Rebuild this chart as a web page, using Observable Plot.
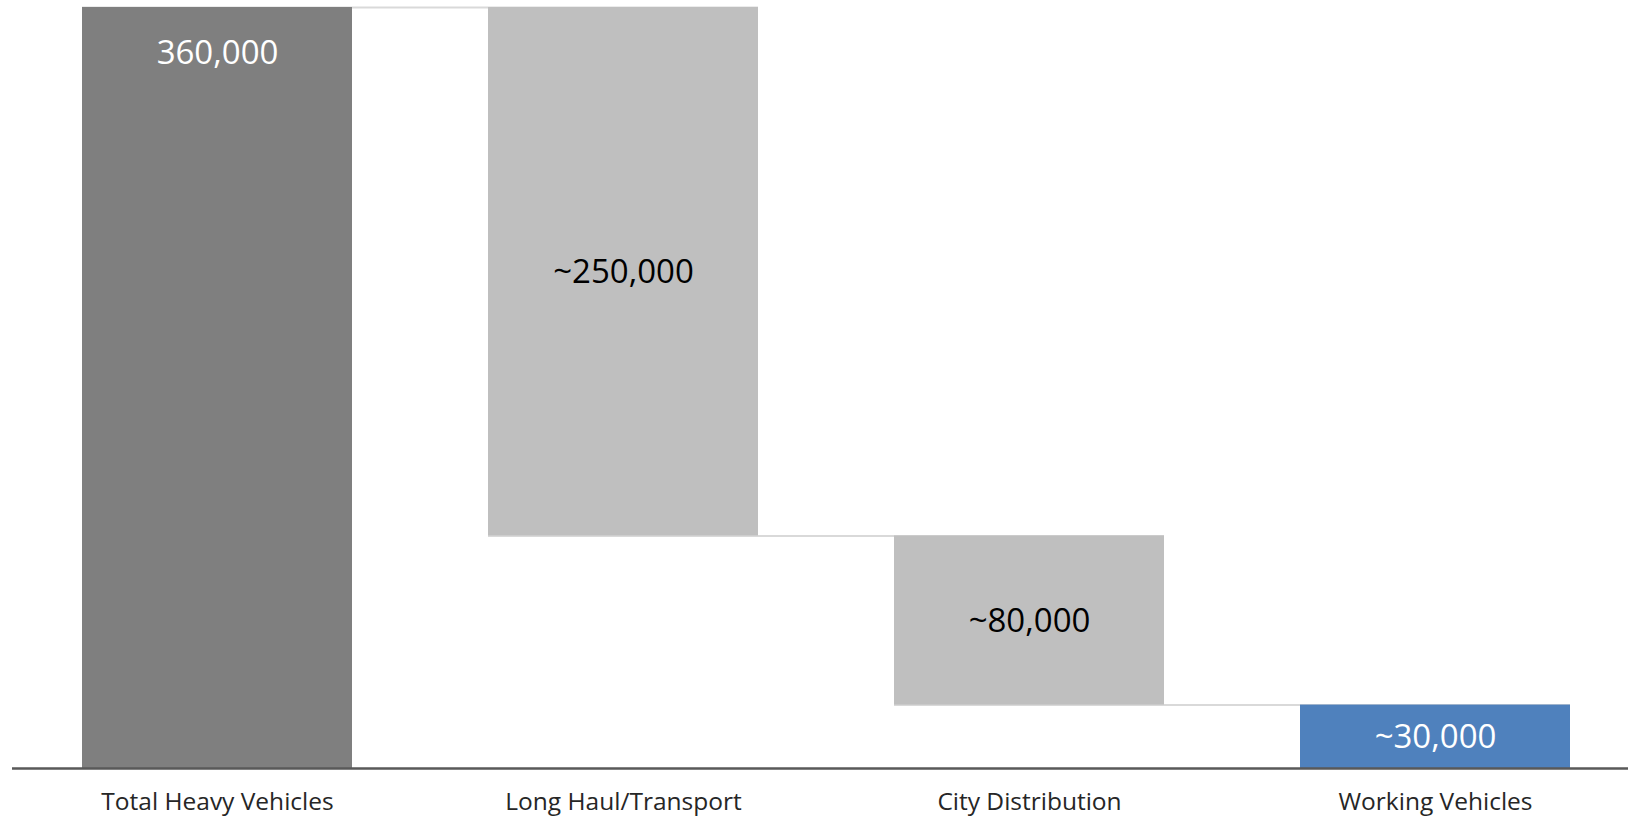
<!DOCTYPE html>
<html>
<head>
<meta charset="utf-8">
<script src="https://cdn.jsdelivr.net/npm/d3@7"></script>
<script src="https://cdn.jsdelivr.net/npm/@observablehq/plot@0.6"></script>
<style>
  html, body { margin: 0; padding: 0; background: #ffffff; }
  #chart svg { display: block; }
</style>
</head>
<body>
<div id="chart"></div>
<script>
// ---- data ----
const categories = ["Total Heavy Vehicles", "Long Haul/Transport", "City Distribution", "Working Vehicles"];
const values = [360000, -250000, -80000, 30000];
const kinds = ["total", "step", "step", "total"];
const valueLabels = ["360,000", "~250,000", "~80,000", "~30,000"];
const barColors = ["#7f7f7f", "#bfbfbf", "#bfbfbf", "#4f81bd"];
const labelColors = ["#ffffff", "#000000", "#000000", "#ffffff"];

// ---- build waterfall table ----
let running = 0;
const bars = categories.map((c, i) => {
  let y1, y2;
  if (kinds[i] === "total") { y1 = 0; y2 = values[i]; running = values[i]; }
  else { y1 = running; y2 = running + values[i]; running = y2; }
  return {category: c, y1, y2, lo: Math.min(y1, y2), hi: Math.max(y1, y2),
          label: valueLabels[i], fill: barColors[i], textFill: labelColors[i], kind: kinds[i]};
});
const connectors = bars.slice(0, -1).map((b, i) => ({
  from: b.category, to: bars[i + 1].category, level: b.y2
}));

const chart = Plot.plot({
  width: 1628,
  height: 818,
  marginTop: 7,
  marginBottom: 50,
  marginLeft: 12,
  marginRight: 0,
  style: {fontFamily: "'Open Sans', sans-serif", background: "#ffffff"},
  x: {type: "band", domain: categories, range: [81, 1572], paddingInner: 0.334, paddingOuter: 0, align: 0.5},
  y: {domain: [0, 360000], axis: null},
  marks: [
    Plot.ruleY(connectors, {x1: "from", x2: "to", y: "level", stroke: "#d9d9d9", strokeWidth: 2}),
    Plot.barY(bars, {x: "category", y1: "lo", y2: "hi", fill: "fill"}),
    Plot.text(bars.filter((d, i) => i === 0), {
      x: "category", y: "hi", text: "label", fill: "textFill",
      fontSize: 33, dy: 46, lineAnchor: "middle"
    }),
    Plot.text(bars.filter((d, i) => i > 0), {
      x: "category", y: d => (d.lo + d.hi) / 2, text: "label", fill: "textFill",
      fontSize: 33, lineAnchor: "middle", dy: 1
    }),
    Plot.ruleY([0], {stroke: "#595959", strokeWidth: 2.5}),
    Plot.axisX({tickSize: 0, tickPadding: 24, fontSize: 24.5, fill: "#262626", label: null})
  ]
});
document.getElementById("chart").appendChild(chart);
</script>
</body>
</html>
